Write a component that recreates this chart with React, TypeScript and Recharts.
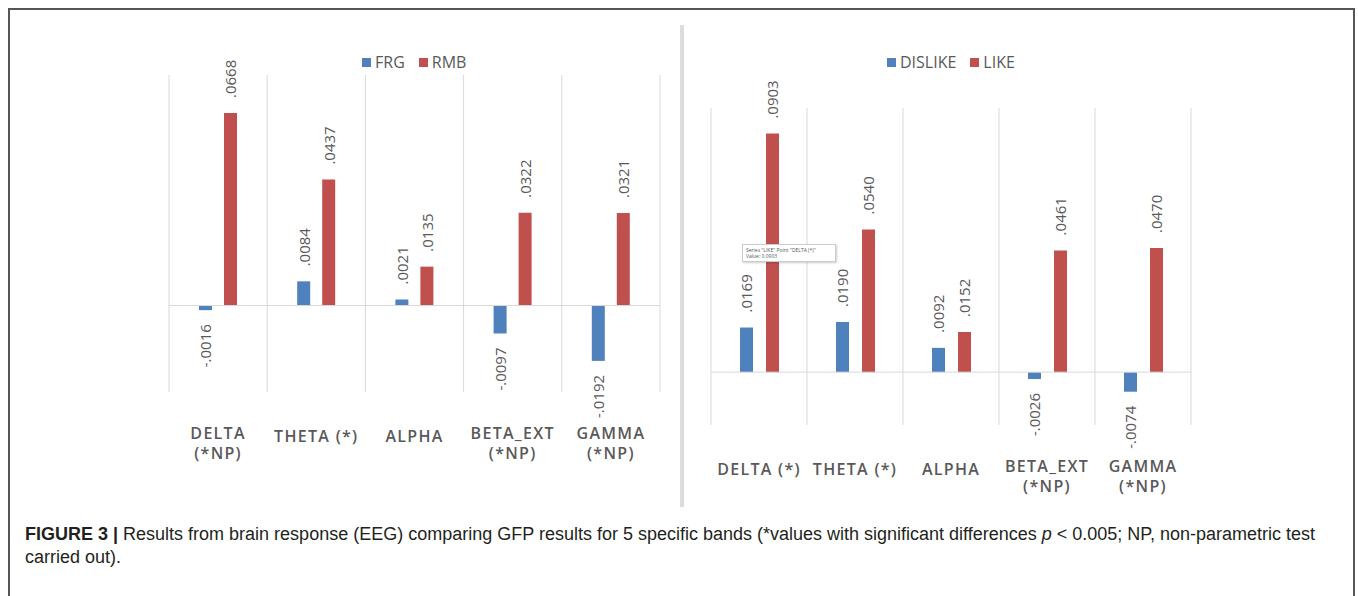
import { BarChart, Bar, XAxis, YAxis, CartesianGrid, ReferenceLine, LabelList } from 'recharts'

const leftBands = ['DELTA\n(*NP)', 'THETA (*)', 'ALPHA', 'BETA_EXT\n(*NP)', 'GAMMA\n(*NP)']
const frgValues = [-0.0016, 0.0084, 0.0021, -0.0097, -0.0192]
const rmbValues = [0.0668, 0.0437, 0.0135, 0.0322, 0.0321]

const rightBands = ['DELTA (*)', 'THETA (*)', 'ALPHA', 'BETA_EXT\n(*NP)', 'GAMMA\n(*NP)']
const dislikeValues = [0.0169, 0.019, 0.0092, -0.0026, -0.0074]
const likeValues = [0.0903, 0.054, 0.0152, 0.0461, 0.047]

const BLUE = '#4f81bd'
const RED = '#c0504d'
const GRID = '#d9d9d9'
const TEXT = '#595959'
const FONT = '"Open Sans", "Noto Sans", sans-serif'

const fmt = (v: number) => (v < 0 ? '-' : '') + Math.abs(v).toFixed(4).replace(/^0/, '')

function ValueLabel(props: any) {
    const { x, y, width, height, value } = props
    const top = Math.min(y, y + height)
    const bottom = Math.max(y, y + height)
    const cx = x + width / 2
    const pos = value >= 0
    const ty = pos ? top - 15 : bottom + 14
    return (
        <text
            x={cx}
            y={ty}
            transform={`rotate(-90 ${cx} ${ty})`}
            textAnchor={pos ? 'start' : 'end'}
            dominantBaseline="central"
            fontSize={15}
            fontFamily={FONT}
            fill={TEXT}
        >
            {fmt(value)}
        </text>
    )
}

function BandTick(props: any) {
    const { x, y, payload } = props
    const lines = String(payload.value).split('\n')
    const first = lines.length > 1 ? 41 : 44
    return (
        <g>
            {lines.map((ln, i) => (
                <text
                    key={i}
                    x={x}
                    y={y + first + i * 20}
                    textAnchor="middle"
                    dominantBaseline="central"
                    fontSize={16}
                    fontWeight={600}
                    fontFamily={FONT}
                    fill={TEXT}
                    style={{ letterSpacing: '1.3px' }}
                >
                    {ln}
                </text>
            ))}
        </g>
    )
}

const bandLines = ({ offset }: any) =>
    [0, 1, 2, 3, 4, 5].map(i => offset.left + (i * offset.width) / 5)

function LegendRow({ names, left, top }: { names: string[]; left: number; top: number }) {
    return (
        <div style={{ position: 'absolute', left, top, display: 'flex', alignItems: 'center', fontFamily: FONT, fontSize: 16, color: TEXT }}>
            {names.map((n, i) => (
                <div key={n} style={{ display: 'flex', alignItems: 'center', marginRight: 14 }}>
                    <div style={{ width: 9, height: 9, background: i === 0 ? BLUE : RED, marginRight: 4 }} />
                    <span>{n}</span>
                </div>
            ))}
        </div>
    )
}

export default function App() {
    const leftData = leftBands.map((name, i) => ({ name, FRG: frgValues[i], RMB: rmbValues[i] }))
    const rightData = rightBands.map((name, i) => ({ name, DISLIKE: dislikeValues[i], LIKE: likeValues[i] }))

    return (
        <div style={{ position: 'fixed', left: 0, top: 0, width: 1358, height: 596, background: '#fff', overflow: 'hidden' }}>
            <div style={{ position: 'absolute', left: 8, top: 8, width: 1343, height: 620, border: '2px solid #555' }} />
            <div style={{ position: 'absolute', left: 680, top: 25, width: 4, height: 482, background: '#dcdcdc' }} />

            <LegendRow names={['FRG', 'RMB']} left={362} top={51} />
            <div style={{ position: 'absolute', left: 150, top: 40 }}>
                <BarChart width={520} height={450} data={leftData} margin={{ top: 35, right: 10, bottom: 0, left: 19 }} barSize={13} barGap={12}>
                    <CartesianGrid horizontal={false} stroke={GRID} verticalCoordinatesGenerator={bandLines} />
                    <XAxis dataKey="name" axisLine={false} tickLine={false} tickSize={0} tickMargin={0} height={98} interval={0} tick={<BandTick />} />
                    <YAxis hide domain={[-0.03, 0.08]} />
                    <ReferenceLine y={0} stroke={GRID} />
                    <Bar dataKey="FRG" fill={BLUE} isAnimationActive={false}>
                        <LabelList dataKey="FRG" content={<ValueLabel />} />
                    </Bar>
                    <Bar dataKey="RMB" fill={RED} isAnimationActive={false}>
                        <LabelList dataKey="RMB" content={<ValueLabel />} />
                    </Bar>
                </BarChart>
            </div>

            <LegendRow names={['DISLIKE', 'LIKE']} left={887} top={51} />
            <div style={{ position: 'absolute', left: 680, top: 40 }}>
                <BarChart width={530} height={480} data={rightData} margin={{ top: 68, right: 19, bottom: 0, left: 31 }} barSize={13} barGap={13}>
                    <CartesianGrid horizontal={false} stroke={GRID} verticalCoordinatesGenerator={bandLines} />
                    <XAxis dataKey="name" axisLine={false} tickLine={false} tickSize={0} tickMargin={0} height={95} interval={0} tick={<BandTick />} />
                    <YAxis hide domain={[-0.02, 0.1]} />
                    <ReferenceLine y={0} stroke={GRID} />
                    <Bar dataKey="DISLIKE" fill={BLUE} isAnimationActive={false}>
                        <LabelList dataKey="DISLIKE" content={<ValueLabel />} />
                    </Bar>
                    <Bar dataKey="LIKE" fill={RED} isAnimationActive={false}>
                        <LabelList dataKey="LIKE" content={<ValueLabel />} />
                    </Bar>
                </BarChart>
            </div>

            <div style={{ position: 'absolute', left: 742, top: 244, width: 94, height: 18, background: '#fff', border: '1px solid #ccc', boxShadow: '1px 1px 2px rgba(0,0,0,0.2)', fontFamily: FONT, fontSize: 5, lineHeight: '6px', color: '#555', padding: '2px 3px', boxSizing: 'border-box' }}>
                <div>Series "LIKE" Point "DELTA (*)"</div>
                <div>Value: 0.0903</div>
            </div>

            <div style={{ position: 'absolute', left: 25, top: 523, fontFamily: '"Liberation Sans Narrow", "Arial Narrow", "Liberation Sans", sans-serif', fontSize: 18, lineHeight: '23px', color: '#231f20', whiteSpace: 'nowrap' }}>
                <b>FIGURE 3 | </b>Results from brain response (EEG) comparing GFP results for 5 specific bands (*values with significant differences <i>p</i> &lt; 0.005; NP, non-parametric test
                <br />
                carried out).
            </div>
        </div>
    )
}
